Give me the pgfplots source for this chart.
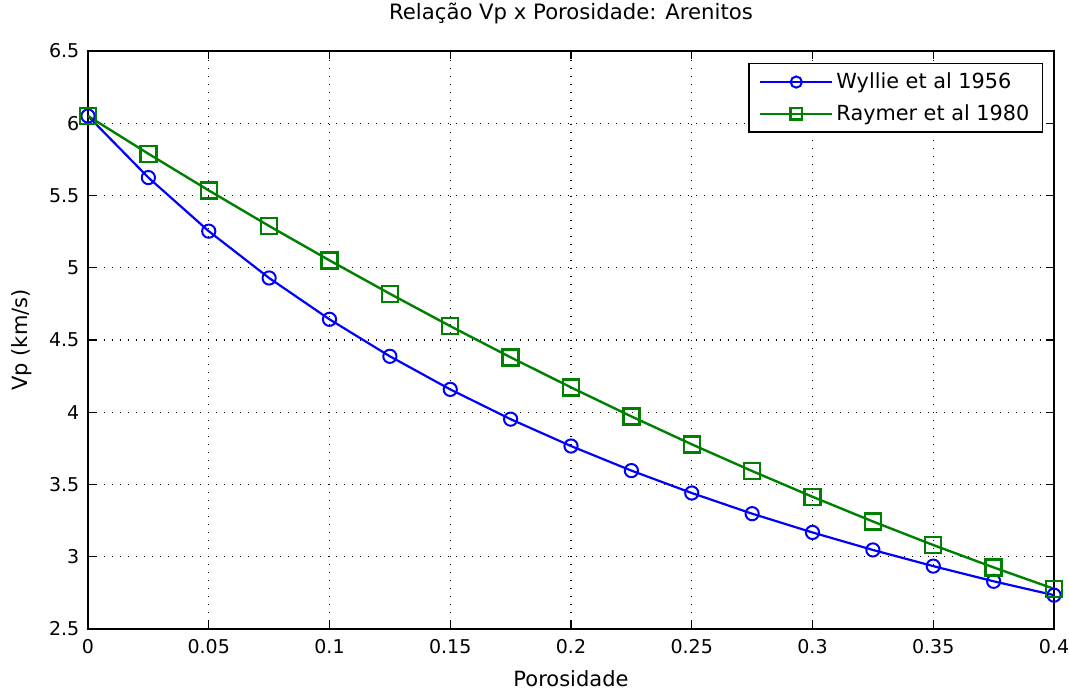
\documentclass[border=0pt]{standalone}
\usepackage{pgfplots}
\pgfplotsset{compat=1.18}
\usepackage{fontspec}
\setmainfont{DejaVu Sans}
\begin{document}
\fontsize{9.5pt}{11.5pt}\selectfont
\begin{tikzpicture}
\begin{axis}[
  scale only axis,
  width=483pt, height=289pt,
  xmin=0, xmax=0.4, ymin=2.5, ymax=6.5,
  xtick={0,0.05,0.1,0.15,0.2,0.25,0.3,0.35,0.4},
  ytick={2.5,3,3.5,4,4.5,5,5.5,6,6.5},
  scaled ticks=false,
  /pgf/number format/assume math mode=true,
  xticklabel style={/pgf/number format/fixed,/pgf/number format/precision=3},
  yticklabel style={/pgf/number format/fixed,/pgf/number format/precision=2},
  tick align=inside,
  major tick length=4pt,
  tick style={black, line width=0.6pt},
  axis line style={black, line width=0.6pt},
  grid=major,
  major grid style={black, line width=0.6pt, dash pattern=on 0.6pt off 3.4pt},
  title={Relação Vp x Porosidade: Arenitos},
  title style={at={(axis description cs:0.5,1)}, anchor=center, yshift=13pt, font=\fontsize{10.6pt}{12pt}\selectfont},
  xlabel={Porosidade},
  ylabel={Vp (km/s)},
  xlabel style={at={(axis description cs:0.5,0)}, anchor=center, yshift=-25pt, font=\fontsize{10.5pt}{12pt}\selectfont},
  ylabel style={at={(axis description cs:0,0.5)}, anchor=center, yshift=33pt, rotate=0, font=\fontsize{10.5pt}{12pt}\selectfont},
  xticklabel style={yshift=-2pt},
  yticklabel style={xshift=-1pt},
  legend style={at={(axis description cs:0.9886,0.979)}, anchor=north east,
    draw=black, line width=0.6pt, inner xsep=5pt, inner ysep=3pt,
    row sep=3.5pt, font=\fontsize{10.4pt}{12pt}\selectfont,
    nodes={inner sep=1.5pt}},
  legend cell align=left,
  legend image code/.code={\draw[mark repeat=2,mark phase=2,mark size=2.8pt] plot coordinates {(0pt,0pt)(18pt,0pt)(36pt,0pt)};},
  clip=false,
]
\addplot[color={rgb,255:red,0;green,0;blue,255}, line width=1.1pt, mark=o, mark size=3.3pt, mark options={line width=1pt}] coordinates {
(0,6.05) (0.025,5.624) (0.05,5.253) (0.075,4.929) (0.1,4.643) (0.125,4.387) (0.15,4.158) (0.175,3.952) (0.2,3.766) (0.225,3.596) (0.25,3.441) (0.275,3.298) (0.3,3.168) (0.325,3.047) (0.35,2.935) (0.375,2.830) (0.4,2.734)
};
\addlegendentry{Wyllie et al 1956}
\addplot[color={rgb,255:red,0;green,128;blue,0}, line width=1.2pt, mark=square, mark size=4pt, mark options={line width=1.2pt}] coordinates {
(0,6.05) (0.025,5.789) (0.05,5.535) (0.075,5.289) (0.1,5.051) (0.125,4.820) (0.15,4.596) (0.175,4.380) (0.2,4.172) (0.225,3.971) (0.25,3.778) (0.275,3.593) (0.3,3.415) (0.325,3.244) (0.35,3.081) (0.375,2.926) (0.4,2.778)
};
\addlegendentry{Raymer et al 1980}
\coordinate (ll) at (rel axis cs:0,0);
\coordinate (ur) at (rel axis cs:1,1);
\end{axis}
\pgfresetboundingbox
\path ([xshift=-44pt,yshift=-31.5pt]ll) rectangle ([xshift=7.5pt,yshift=25.5pt]ur);
\end{tikzpicture}
\end{document}
